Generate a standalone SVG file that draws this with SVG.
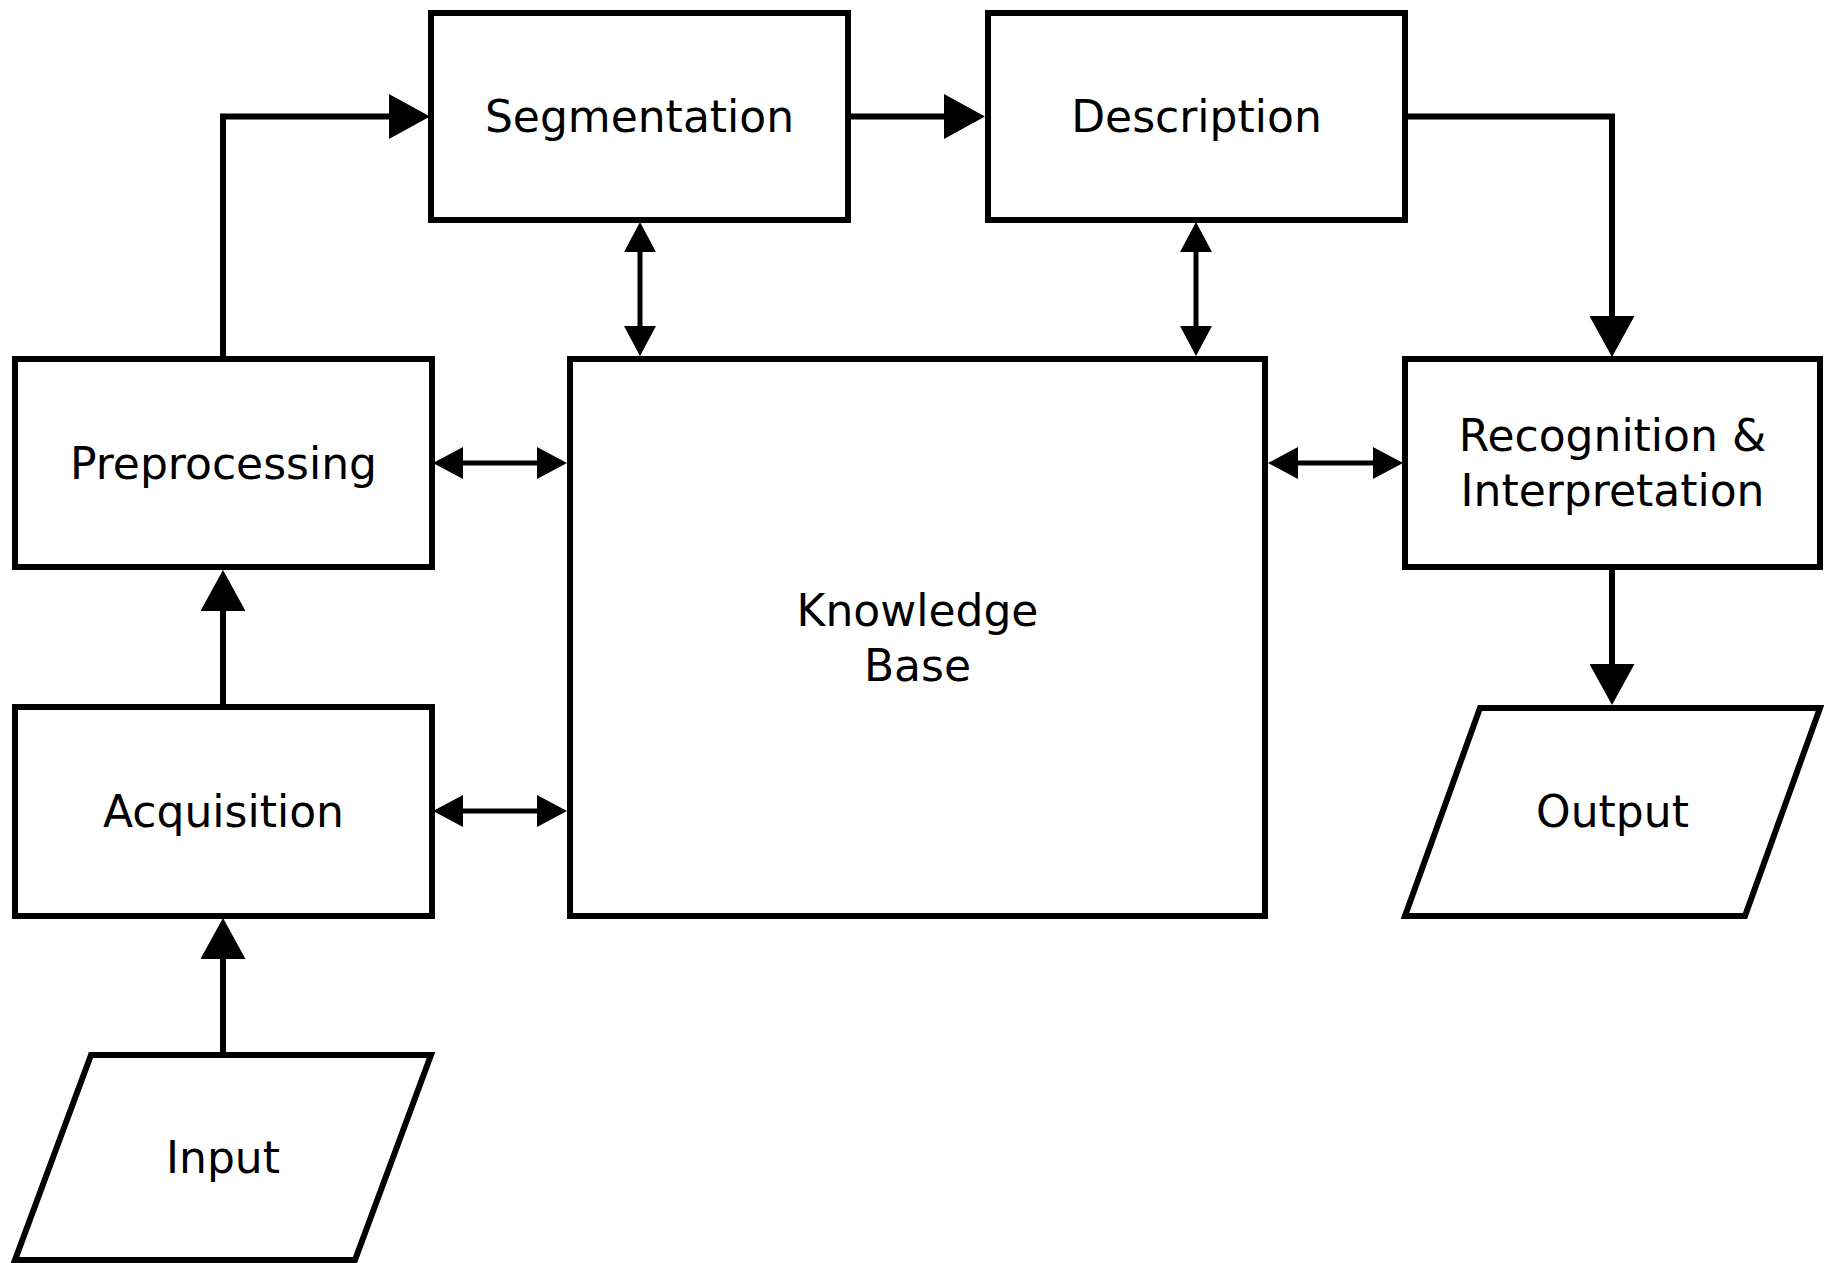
<svg xmlns="http://www.w3.org/2000/svg" width="1837" height="1263" viewBox="0 0 1837 1263">
<style>
.box{fill:#fff;stroke:#000;stroke-width:6}
.lbl{font-family:"DejaVu Sans",sans-serif;font-size:44px;fill:#000;text-anchor:middle}
.c1{fill:none;stroke:#000;stroke-width:6;marker-end:url(#ah)}
.c2{fill:none;stroke:#000;stroke-width:5;marker-start:url(#ah2);marker-end:url(#ah2)}
</style>
<defs>
<marker id="ah" markerUnits="userSpaceOnUse" markerWidth="41" markerHeight="45" refX="21" refY="22.5" orient="auto"><path d="M0,0 L41,22.5 L0,45 Z" fill="#000"/></marker>
<marker id="ah2" markerUnits="userSpaceOnUse" markerWidth="30" markerHeight="32" refX="18" refY="16" orient="auto-start-reverse"><path d="M0,0 L30,16 L0,32 Z" fill="#000"/></marker>
</defs>
<rect width="1837" height="1263" fill="#fff"/>
<g id="connectors">
<path class="c1" d="M223,359 V116.5 H410"/>
<path class="c1" d="M848,116.5 H965"/>
<path class="c1" d="M1405,116.5 H1612 V337"/>
<path class="c1" d="M1612,567 V685"/>
<path class="c1" d="M223,707 V590"/>
<path class="c1" d="M223,1055 V938"/>
<path class="c2" d="M640,234 V344"/>
<path class="c2" d="M1196,234 V344"/>
<path class="c2" d="M445,463 H555"/>
<path class="c2" d="M445,811 H555"/>
<path class="c2" d="M1280,463 H1391"/>
</g>
<g id="segmentation"><rect class="box" x="431" y="13" width="417" height="207"/><text class="lbl" x="639.5" y="132">Segmentation</text></g>
<g id="description"><rect class="box" x="988" y="13" width="417" height="207"/><text class="lbl" x="1196.5" y="132">Description</text></g>
<g id="preprocessing"><rect class="box" x="15" y="359" width="417" height="208"/><text class="lbl" x="223.5" y="478.5">Preprocessing</text></g>
<g id="acquisition"><rect class="box" x="15" y="707" width="417" height="209"/><text class="lbl" x="223.5" y="826.5">Acquisition</text></g>
<g id="knowledge-base"><rect class="box" x="570" y="359" width="695" height="557"/><text class="lbl" x="917.5" y="625.5">Knowledge</text><text class="lbl" x="917.5" y="680.5">Base</text></g>
<g id="recognition"><rect class="box" x="1405" y="359" width="415" height="208"/><text class="lbl" x="1612.5" y="451">Recognition &amp;</text><text class="lbl" x="1612.5" y="506">Interpretation</text></g>
<g id="output"><polygon class="box" points="1480,708 1820,708 1745,916 1405,916"/><text class="lbl" x="1612.5" y="826.5">Output</text></g>
<g id="input"><polygon class="box" points="91,1055 431,1055 355,1260 15,1260"/><text class="lbl" x="223" y="1173">Input</text></g>
</svg>
